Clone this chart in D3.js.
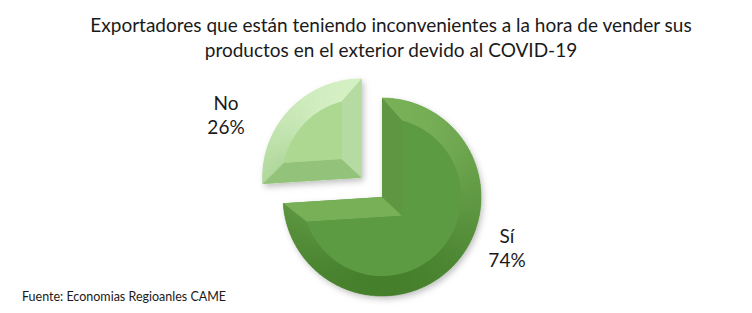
<!DOCTYPE html>
<html>
<head>
<meta charset="utf-8">
<script src="https://cdn.jsdelivr.net/npm/d3@7"></script>
<style>
  html, body { margin: 0; padding: 0; background: #fff; }
  svg { display: block; font-family: Lato, "Open Sans", sans-serif; }
</style>
</head>
<body>
<svg id="chart" width="752" height="313"></svg>
<script>
// ─── data ─────────────────────────────
const categories = ["Sí", "No"];
const values = [74, 26];
const titleLines = [
  "Exportadores que están teniendo inconvenientes a la hora de vender sus",
  "productos en el exterior devido al COVID-19"
];
const sourceNote = "Fuente: Economias Regioanles CAME";

// ─── layout ───────────────────────────
const W = 752, H = 313;
const cx = 382, cy = 197, R = 99, BEVEL = 20;
const EXPLODE = { "Sí": 0, "No": 28 };
const SHADES = {
  "Sí": { face: "#5d9b42", dark: "#467f2c", light: "#78b058" },
  "No": { face: "#acd891", dark: "#93c37b", light: "#d6f1c6" }
};
const LABEL_POS = { "Sí": [507, 243], "No": [226, 110] };
const LIGHT = [0.05, -1]; // light from above

const svg = d3.select("#chart");
svg.append("rect").attr("width", W).attr("height", H).attr("fill", "#fff");

const defs = svg.append("defs");
defs.append("filter").attr("id", "shadow")
  .attr("x", "-20%").attr("y", "-20%").attr("width", "150%").attr("height", "150%")
  .append("feDropShadow")
    .attr("dx", 2).attr("dy", 3).attr("stdDeviation", 3)
    .attr("flood-color", "#000").attr("flood-opacity", 0.25);

// title
svg.append("g").selectAll("text")
  .data(titleLines)
  .join("text")
    .attr("x", 391)
    .attr("y", (d, i) => 32 + i * 25)
    .attr("text-anchor", "middle")
    .attr("font-size", 19)
    .attr("fill", "#1a1a1a")
    .text(d => d);

// source
svg.append("text")
  .attr("x", 22).attr("y", 301)
  .attr("font-size", 12.5)
  .attr("fill", "#1a1a1a")
  .text(sourceNote);

// ─── pie ──────────────────────────────
const pie = d3.pie().sort(null).value(d => d.value);
const arcs = pie(categories.map((c, i) => ({ name: c, value: values[i] })));

const pt = (r, a) => [r * Math.sin(a), -r * Math.cos(a)];
const shadeOf = (n, s) => {
  const len = Math.hypot(LIGHT[0], LIGHT[1]);
  const k = (n[0] * LIGHT[0] + n[1] * LIGHT[1]) / len;
  return d3.interpolateRgb(s.dark, s.light)(0.5 + 0.5 * k);
};
const poly = pts => "M" + pts.map(p => p.join(",")).join("L") + "Z";

arcs.forEach(d => {
  const name = d.data.name;
  const s = SHADES[name];
  const a0 = d.startAngle, a1 = d.endAngle;
  const mid = (a0 + a1) / 2, theta = a1 - a0;
  const ex = EXPLODE[name];
  const ox = cx + Math.sin(mid) * ex, oy = cy - Math.cos(mid) * ex;

  const r2 = R - BEVEL;
  const f0 = a0 + Math.asin(BEVEL / r2), f1 = a1 - Math.asin(BEVEL / r2);
  const P = pt(BEVEL / Math.sin(theta / 2), mid);

  const g = svg.append("g")
    .attr("transform", `translate(${ox},${oy})`);

  // base silhouette with shadow
  g.append("path")
    .attr("d", d3.arc().innerRadius(0).outerRadius(R)(d))
    .attr("fill", s.face)
    .attr("filter", "url(#shadow)");

  // outer rim band split into small facets
  const N = 90;
  for (let i = 0; i < N; i++) {
    const t0 = a0 + (a1 - a0) * i / N, t1 = a0 + (a1 - a0) * (i + 1) / N;
    const u0 = f0 + (f1 - f0) * i / N, u1 = f0 + (f1 - f0) * (i + 1) / N;
    const tm = (t0 + t1) / 2;
    const col = shadeOf([Math.sin(tm), -Math.cos(tm)], s);
    g.append("path")
      .attr("d", poly([pt(R, t0), pt(R, t1), pt(r2, u1), pt(r2, u0)]))
      .attr("fill", col).attr("stroke", col).attr("stroke-width", 0.6);
  }

  // straight-edge facets
  const n0 = [Math.sin(a0 - Math.PI / 2), -Math.cos(a0 - Math.PI / 2)];
  const n1 = [Math.sin(a1 + Math.PI / 2), -Math.cos(a1 + Math.PI / 2)];
  g.append("path")
    .attr("d", poly([[0, 0], pt(R, a0), pt(r2, f0), P]))
    .attr("fill", shadeOf(n0, s));
  g.append("path")
    .attr("d", poly([[0, 0], pt(R, a1), pt(r2, f1), P]))
    .attr("fill", shadeOf(n1, s));

  // flat top face
  const face = d3.path();
  face.moveTo(P[0], P[1]);
  const q = pt(r2, f0);
  face.lineTo(q[0], q[1]);
  face.arc(0, 0, r2, f0 - Math.PI / 2, f1 - Math.PI / 2);
  face.closePath();
  g.append("path").attr("d", face.toString()).attr("fill", s.face);

  // label
  const [lx, ly] = LABEL_POS[name];
  const lab = svg.append("text")
    .attr("x", lx).attr("y", ly)
    .attr("text-anchor", "middle")
    .attr("font-size", 19)
    .attr("fill", "#1a1a1a");
  lab.append("tspan").attr("x", lx).text(name);
  lab.append("tspan").attr("x", lx).attr("dy", 24)
    .text(Math.round(d.data.value / d3.sum(values) * 100) + "%");
});
</script>
</body>
</html>
